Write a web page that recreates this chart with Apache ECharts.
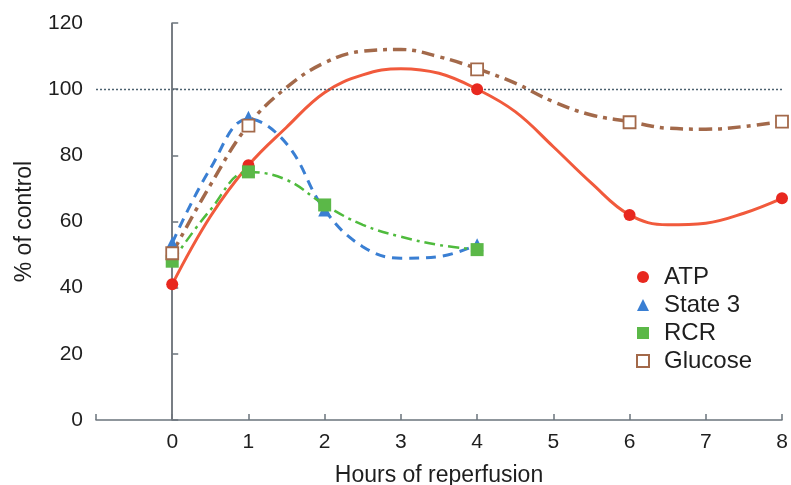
<!DOCTYPE html>
<html>
<head>
<meta charset="utf-8">
<script src="https://cdn.jsdelivr.net/npm/echarts@6/dist/echarts.min.js"></script>
<style>html,body{margin:0;padding:0;background:#fff;}#c{width:791px;height:485px;}</style>
</head>
<body>
<div id="c"></div>
<script>
// Measured points (markers)
const atpX = [0, 1, 4, 6, 8];
const atpY = [41, 77, 100, 62, 67];
const state3X = [0, 1, 2, 4];
const state3Y = [53.5, 91.5, 63.5, 53];
const rcrX = [0, 1, 2, 4];
const rcrY = [48, 75, 65, 51.5];
const glucoseX = [0, 1, 4, 6, 8];
const glucoseY = [50.4, 89, 106, 90, 90.2];

// Fitted curves
const curveX8 = [0, 0.5, 1, 1.5, 2, 2.5, 3, 3.5, 4, 4.5, 5, 5.5, 6, 6.5, 7, 7.5, 8];
const curveX4 = [0, 0.5, 1, 1.5, 2, 2.5, 3, 3.5, 4];
const atpCurveY = [41, 61.5, 77, 88.5, 99, 104.3, 106.2, 104.8, 100, 93.2, 82.6, 71.6, 62, 59, 59.5, 62.5, 67];
const state3CurveY = [53.5, 76, 91, 83.5, 63.5, 52.4, 48.9, 49.4, 53];
const rcrCurveY = [48, 63.5, 75, 72.6, 65, 59, 55.4, 52.9, 51.5];
const glucoseCurveY = [50.4, 71, 89.2, 100.5, 108, 111.5, 112, 109.8, 106.2, 101.8, 96.2, 92.2, 90.2, 88.2, 87.9, 88.7, 90.2];

const xTicks = [-1, 0, 1, 2, 3, 4, 5, 6, 7, 8];
const yTicks = [0, 20, 40, 60, 80, 100, 120];

const zip = (xs, ys) => xs.map((x, i) => [x, ys[i]]);

const C = {
  atpLine: '#f15a3c', atp: '#e8281f',
  s3: '#3a7fd3',
  rcrLine: '#4fbb3d', rcr: '#5bb848',
  glu: '#a3694a'
};
const FONT = 'Liberation Sans, Arial, sans-serif';
const TXT = '#1e1e1e';

const chart = echarts.init(document.getElementById('c'));
chart.setOption({
  animation: false,
  backgroundColor: '#fff',
  textStyle: { fontFamily: FONT },
  grid: { left: 96, right: 9, top: 23, bottom: 65, containLabel: false, outerBoundsMode: 'none' },
  xAxis: {
    type: 'value', min: xTicks[0], max: xTicks[xTicks.length - 1], interval: 1,
    name: 'Hours of reperfusion', nameLocation: 'middle', nameGap: 44,
    nameTextStyle: { fontSize: 23, color: TXT, fontFamily: FONT },
    axisLine: { lineStyle: { color: '#6b747c', width: 1.5 } },
    axisTick: { inside: true, length: 6, lineStyle: { color: '#6b747c', width: 1.5 } },
    axisLabel: { fontSize: 21, color: TXT, margin: 12, fontFamily: FONT,
      formatter: v => (v < 0 ? '' : String(v)) },
    splitLine: { show: false }
  },
  yAxis: {
    type: 'value', min: yTicks[0], max: yTicks[yTicks.length - 1], interval: 20,
    name: '% of control', nameLocation: 'middle', nameGap: 60,
    nameTextStyle: { fontSize: 23, color: TXT, fontFamily: FONT },
    axisLine: { show: true, lineStyle: { color: '#6b747c', width: 1.5 } },
    axisTick: { show: true, inside: true, length: 6, lineStyle: { color: '#6b747c', width: 1.5 } },
    axisLabel: { fontSize: 21, color: TXT, margin: 13, fontFamily: FONT },
    splitLine: { show: false }
  },
  legend: {
    orient: 'vertical', left: 636, top: 265, padding: 0, itemGap: 4,
    itemWidth: 12, itemHeight: 12,
    textStyle: { fontSize: 24, color: TXT, fontFamily: FONT, padding: [0, 0, 0, 10] },
    data: ['ATP', 'State 3', 'RCR', 'Glucose']
  },
  series: [
    {
      name: 'ref', type: 'line', data: [], silent: true,
      markLine: {
        silent: true, symbol: 'none', label: { show: false },
        data: [
          { yAxis: 100, lineStyle: { color: '#4d6270', type: [2, 2], width: 1.3 } },
          { xAxis: 0, lineStyle: { color: '#70767c', type: 'solid', width: 1.5 } }
        ]
      }
    },
    { name: 'Glucose fit', type: 'line', data: zip(curveX8, glucoseCurveY), smooth: 0.4, showSymbol: false,
      lineStyle: { color: C.glu, width: 3.5, type: [13, 6, 4, 6] }, z: 2 },
    { name: 'ATP fit', type: 'line', data: zip(curveX8, atpCurveY), smooth: 0.4, showSymbol: false,
      lineStyle: { color: C.atpLine, width: 3 }, z: 2 },
    { name: 'State 3 fit', type: 'line', data: zip(curveX4, state3CurveY), smooth: 0.4, showSymbol: false,
      lineStyle: { color: C.s3, width: 3, type: [10, 7] }, z: 2 },
    { name: 'RCR fit', type: 'line', data: zip(curveX4, rcrCurveY), smooth: 0.4, showSymbol: false,
      lineStyle: { color: C.rcrLine, width: 2.5, type: [11, 5, 3, 5] }, z: 2 },
    { name: 'ATP', type: 'scatter', data: zip(atpX, atpY), symbol: 'circle', symbolSize: 12,
      itemStyle: { color: C.atp, opacity: 1 }, z: 5 },
    { name: 'State 3', type: 'scatter', data: zip(state3X, state3Y), symbol: 'triangle', symbolSize: 13,
      itemStyle: { color: C.s3, opacity: 1 }, z: 5 },
    { name: 'RCR', type: 'scatter', data: zip(rcrX, rcrY), symbol: 'rect', symbolSize: 13,
      itemStyle: { color: C.rcr, opacity: 1 }, z: 6 },
    { name: 'Glucose', type: 'scatter', data: zip(glucoseX, glucoseY), symbol: 'rect', symbolSize: 12,
      itemStyle: { color: '#fff', borderColor: C.glu, borderWidth: 1.8, opacity: 1 }, z: 6 }
  ]
});
</script>
</body>
</html>
